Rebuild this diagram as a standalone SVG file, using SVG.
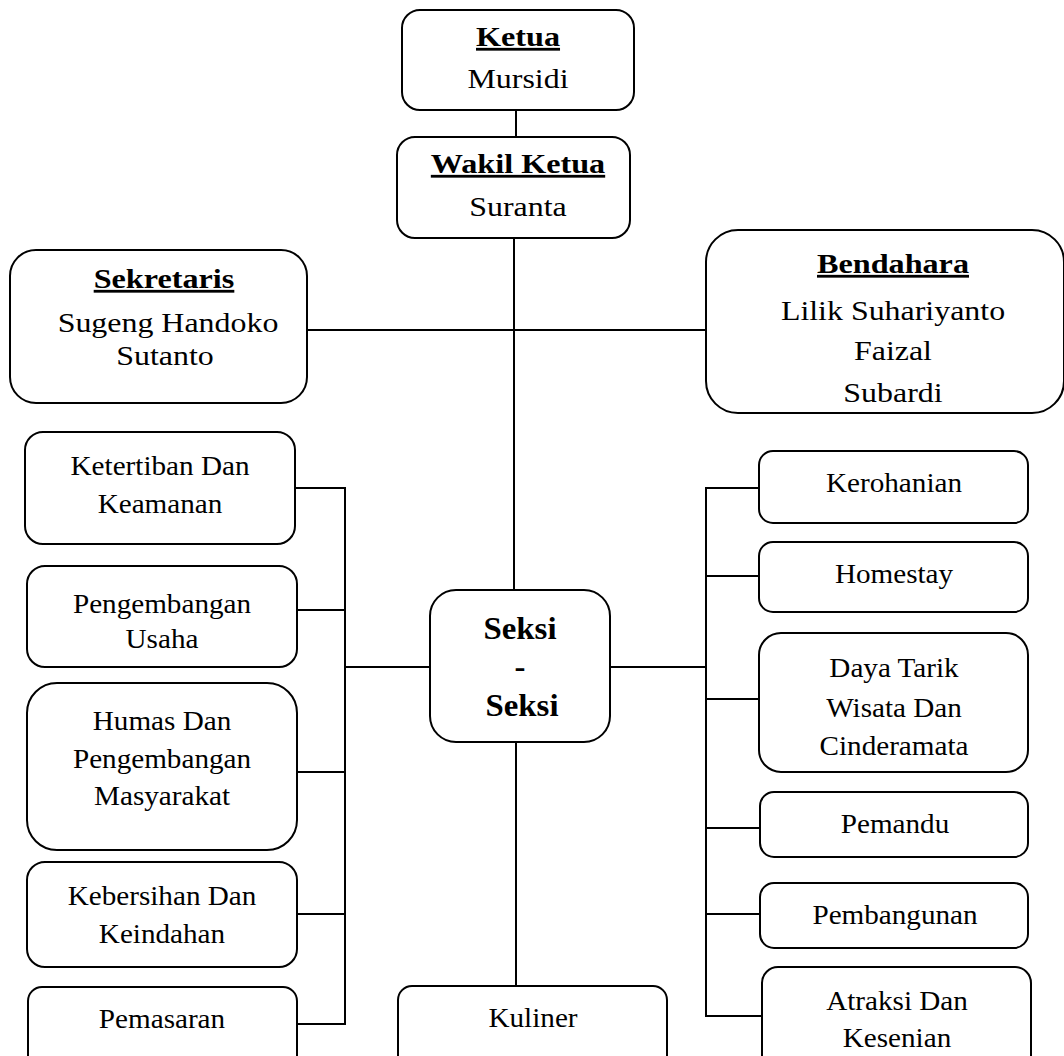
<svg xmlns="http://www.w3.org/2000/svg" width="1064" height="1056" viewBox="0 0 1064 1056">
<style>
rect{fill:#fff;stroke:#000;stroke-width:2}
text{font-family:"Liberation Serif","Times New Roman",serif;fill:#000;text-anchor:middle}
.t{font-size:28px;font-weight:bold;text-decoration:underline}
.n{font-size:28px}
.s{font-size:27px}
.b{font-size:31px;font-weight:bold}
#connectors line{stroke:#000;stroke-width:2}
</style>
<rect width="1064" height="1056" style="fill:#fff;stroke:none"/>
<g id="connectors">
<line x1="516" y1="110" x2="516" y2="137"/>
<line x1="514" y1="238" x2="514" y2="590"/>
<line x1="307" y1="330" x2="706" y2="330"/>
<line x1="516" y1="742" x2="516" y2="986"/>
<line x1="345" y1="667" x2="430" y2="667"/>
<line x1="610" y1="667" x2="706" y2="667"/>
<line x1="345" y1="487" x2="345" y2="1025"/>
<line x1="295" y1="488" x2="346" y2="488"/>
<line x1="297" y1="610" x2="346" y2="610"/>
<line x1="297" y1="772" x2="346" y2="772"/>
<line x1="297" y1="914" x2="346" y2="914"/>
<line x1="297" y1="1024" x2="346" y2="1024"/>
<line x1="706" y1="487" x2="706" y2="1017"/>
<line x1="705" y1="488" x2="759" y2="488"/>
<line x1="705" y1="576" x2="759" y2="576"/>
<line x1="705" y1="699" x2="759" y2="699"/>
<line x1="705" y1="828" x2="760" y2="828"/>
<line x1="705" y1="914" x2="760" y2="914"/>
<line x1="705" y1="1016" x2="762" y2="1016"/>
</g>
<g id="ketua"><rect x="402" y="10" width="232" height="100" rx="18"/>
<text class="t" transform="translate(518,46) scale(1.15,1)">Ketua</text>
<text class="n" transform="translate(518,88) scale(1.14,1)">Mursidi</text></g>
<g id="wakil"><rect x="397" y="137" width="233" height="101" rx="18"/>
<text class="t" transform="translate(518,173) scale(1.15,1)">Wakil Ketua</text>
<text class="n" transform="translate(518,216) scale(1.14,1)">Suranta</text></g>
<g id="sekretaris"><rect x="10" y="250" width="297" height="153" rx="26"/>
<text class="t" transform="translate(164,288) scale(1.15,1)">Sekretaris</text>
<text class="n" transform="translate(168,332) scale(1.14,1)">Sugeng Handoko</text>
<text class="n" transform="translate(165,365) scale(1.14,1)">Sutanto</text></g>
<g id="bendahara"><rect x="706" y="230" width="358" height="183" rx="32"/>
<text class="t" transform="translate(893,273) scale(1.15,1)">Bendahara</text>
<text class="n" transform="translate(893,320) scale(1.14,1)">Lilik Suhariyanto</text>
<text class="n" transform="translate(893,360) scale(1.14,1)">Faizal</text>
<text class="n" transform="translate(893,402) scale(1.14,1)">Subardi</text></g>
<g id="seksi"><rect x="430" y="590" width="180" height="152" rx="26"/>
<text class="b" transform="translate(520,639) scale(1.06,1)">Seksi</text>
<text class="b" transform="translate(520,677) scale(1.06,1)">-</text>
<text class="b" transform="translate(522,716) scale(1.06,1)">Seksi</text></g>
<g id="ketertiban"><rect x="25" y="432" width="270" height="112" rx="18"/>
<text class="s" transform="translate(160,475) scale(1.08,1)">Ketertiban Dan</text>
<text class="s" transform="translate(160,513) scale(1.08,1)">Keamanan</text></g>
<g id="pengembangan-usaha"><rect x="27" y="566" width="270" height="101" rx="18"/>
<text class="s" transform="translate(162,613) scale(1.08,1)">Pengembangan</text>
<text class="s" transform="translate(162,648) scale(1.08,1)">Usaha</text></g>
<g id="humas"><rect x="27" y="683" width="270" height="167" rx="30"/>
<text class="s" transform="translate(162,730) scale(1.08,1)">Humas Dan</text>
<text class="s" transform="translate(162,768) scale(1.08,1)">Pengembangan</text>
<text class="s" transform="translate(162,805) scale(1.08,1)">Masyarakat</text></g>
<g id="kebersihan"><rect x="27" y="862" width="270" height="105" rx="18"/>
<text class="s" transform="translate(162,905) scale(1.08,1)">Kebersihan Dan</text>
<text class="s" transform="translate(162,943) scale(1.08,1)">Keindahan</text></g>
<g id="pemasaran"><rect x="28" y="987" width="269" height="100" rx="14"/>
<text class="s" transform="translate(162,1028) scale(1.08,1)">Pemasaran</text></g>
<g id="kuliner"><rect x="398" y="986" width="269" height="100" rx="14"/>
<text class="s" transform="translate(533,1027) scale(1.08,1)">Kuliner</text></g>
<g id="kerohanian"><rect x="759" y="451" width="269" height="72" rx="14"/>
<text class="s" transform="translate(894,492) scale(1.08,1)">Kerohanian</text></g>
<g id="homestay"><rect x="759" y="542" width="269" height="70" rx="14"/>
<text class="s" transform="translate(894,583) scale(1.08,1)">Homestay</text></g>
<g id="daya-tarik"><rect x="759" y="633" width="269" height="139" rx="22"/>
<text class="s" transform="translate(894,677) scale(1.08,1)">Daya Tarik</text>
<text class="s" transform="translate(894,717) scale(1.08,1)">Wisata Dan</text>
<text class="s" transform="translate(894,755) scale(1.08,1)">Cinderamata</text></g>
<g id="pemandu"><rect x="760" y="792" width="268" height="65" rx="14"/>
<text class="s" transform="translate(895,833) scale(1.08,1)">Pemandu</text></g>
<g id="pembangunan"><rect x="760" y="883" width="268" height="65" rx="14"/>
<text class="s" transform="translate(895,924) scale(1.08,1)">Pembangunan</text></g>
<g id="atraksi"><rect x="762" y="967" width="269" height="110" rx="16"/>
<text class="s" transform="translate(897,1010) scale(1.08,1)">Atraksi Dan</text>
<text class="s" transform="translate(897,1047) scale(1.08,1)">Kesenian</text></g>
</svg>
